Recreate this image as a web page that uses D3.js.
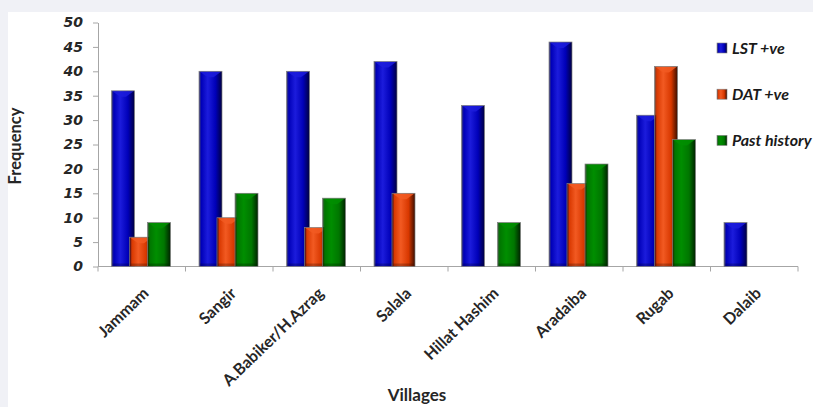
<!DOCTYPE html>
<html>
<head>
<meta charset="utf-8">
<script src="https://cdn.jsdelivr.net/npm/d3@7"></script>
<style>
  html, body { margin: 0; padding: 0; background: #f0f1f6; }
  svg { display: block; }
</style>
</head>
<body>
<svg id="chart" width="813" height="407"></svg>
<script>
// Villages surveyed and counts per indicator
const villages = ["Jammam", "Sangir", "A.Babiker/H.Azrag", "Salala", "Hillat Hashim", "Aradaiba", "Rugab", "Dalaib"];
const seriesNames = ["LST +ve", "DAT +ve", "Past history"];
const lstPositive = [36, 40, 40, 42, 33, 46, 31, 9];
const datPositive = [6, 10, 8, 15, 0, 17, 41, 0];
const pastHistory = [9, 15, 14, 0, 9, 21, 26, 0];
const yTicks = [0, 5, 10, 15, 20, 25, 30, 35, 40, 45, 50];

const seriesValues = [lstPositive, datPositive, pastHistory];
const seriesColors = [
  { base: "#0000b8", light: "#1c1cdc", dark: "#000040" },
  { base: "#d83800", light: "#f25a22", dark: "#3c0e00" },
  { base: "#007600", light: "#008e00", dark: "#002200" }
];

const svg = d3.select("#chart");
const W = 813, H = 407;

// white chart panel
svg.append("rect").attr("x", 8).attr("y", 12).attr("width", W - 8).attr("height", H - 12).attr("fill", "#ffffff");

const margin = { left: 98, top: 22.5 };
const plotW = 700, plotH = 244;

const g = svg.append("g").attr("transform", `translate(${margin.left},${margin.top})`);

const x0 = d3.scaleBand().domain(villages).range([0, plotW]).paddingInner(0).paddingOuter(0);
const x1 = d3.scaleBand().domain(seriesNames).range([13.5, 13.5 + 54]);
const barW = 23;
const y = d3.scaleLinear().domain([0, 50]).range([plotH, 0]);

// gradients for bevelled bars
const defs = svg.append("defs");
seriesColors.forEach((c, i) => {
  const gr = defs.append("linearGradient").attr("id", "grad" + i).attr("x1", "0").attr("x2", "1").attr("y1", "0").attr("y2", "0");
  gr.append("stop").attr("offset", "0%").attr("stop-color", c.dark).attr("stop-opacity", 0.7);
  gr.append("stop").attr("offset", "10%").attr("stop-color", c.base);
  gr.append("stop").attr("offset", "38%").attr("stop-color", c.light);
  gr.append("stop").attr("offset", "72%").attr("stop-color", c.base);
  gr.append("stop").attr("offset", "100%").attr("stop-color", c.dark);
});

// y axis
const yAxis = d3.axisLeft(y).tickValues(yTicks).tickSize(5).tickSizeOuter(0).tickPadding(10);
const yg = g.append("g").call(yAxis);
yg.select(".domain").attr("stroke", "#a6a6a6");
yg.selectAll(".tick line").attr("stroke", "#a6a6a6");
yg.selectAll(".tick text")
  .attr("font-family", "DejaVu Sans")
  .attr("font-weight", "bold")
  .attr("font-style", "italic")
  .attr("font-size", "14px")
  .attr("fill", "#262626");

// x axis with ticks at category boundaries
const xg = g.append("g").attr("transform", `translate(0,${plotH})`);
xg.append("line").attr("x1", 0).attr("x2", plotW).attr("y1", 0).attr("y2", 0).attr("stroke", "#a6a6a6");
const boundaries = villages.map(v => x0(v)).concat([plotW]);
xg.selectAll("line.bt").data(boundaries).join("line").attr("class", "bt")
  .attr("x1", d => d).attr("x2", d => d).attr("y1", 0).attr("y2", 5).attr("stroke", "#a6a6a6");

// bars, series by series so later series sit in front
seriesNames.forEach((s, si) => {
  const layer = g.append("g");
  villages.forEach((v, vi) => {
    const val = seriesValues[si][vi];
    if (!val) return;
    const bx = x0(v) + x1(s);
    const by = y(val);
    const bh = y(0) - by;
    const c = seriesColors[si];
    layer.append("rect").attr("x", bx).attr("y", by).attr("width", barW).attr("height", bh)
      .attr("fill", `url(#grad${si})`);
    // top bevel highlight
    const bev = Math.min(6, bh / 2);
    layer.append("path")
      .attr("d", `M${bx + 1},${by + 0.5} L${bx + barW - 1},${by + 0.5} L${bx + barW / 2 + 3},${by + bev} L${bx + barW / 2 - 3},${by + bev} Z`)
      .attr("fill", c.light).attr("opacity", 0.85);
    // bottom bevel shade
    layer.append("rect").attr("x", bx + 1).attr("y", by + bh - 3).attr("width", barW - 2).attr("height", 2.5)
      .attr("fill", c.dark).attr("opacity", 0.3);
    // thin grey outline
    layer.append("rect").attr("x", bx).attr("y", by).attr("width", barW).attr("height", bh)
      .attr("fill", "none").attr("stroke", "#7f7f7f").attr("stroke-width", 0.7);
  });
});

// category labels
g.selectAll("text.cat").data(villages).join("text").attr("class", "cat")
  .attr("transform", v => `translate(${x0(v) + x0.bandwidth() / 2 + 8},${plotH + 28}) rotate(-44)`)
  .attr("text-anchor", "end")
  .attr("font-family", "Lato")
  .attr("font-weight", "bold")
  .attr("font-size", "16px")
  .attr("fill", "#262626")
  .text(v => v);

// axis titles
svg.append("text")
  .attr("transform", "translate(21,146) rotate(-90)")
  .attr("text-anchor", "middle")
  .attr("font-family", "Lato").attr("font-weight", "bold").attr("font-size", "16.5px").attr("fill", "#262626")
  .text("Frequency");
svg.append("text")
  .attr("x", 417).attr("y", 401)
  .attr("text-anchor", "middle")
  .attr("font-family", "Lato").attr("font-weight", "bold").attr("font-size", "17px").attr("fill", "#262626")
  .text("Villages");

// legend
const legend = svg.append("g").attr("transform", "translate(717,48)");
seriesNames.forEach((s, i) => {
  const lg = legend.append("g").attr("transform", `translate(0,${i * 46.2})`);
  lg.append("rect").attr("x", 0).attr("y", -5).attr("width", 10).attr("height", 10)
    .attr("fill", `url(#grad${i})`).attr("stroke", "#7f7f7f").attr("stroke-width", 0.6);
  lg.append("text").attr("x", 15).attr("y", 5.5)
    .attr("font-family", "Lato").attr("font-weight", "bold").attr("font-style", "italic")
    .attr("font-size", "16px").attr("fill", "#1a1a1a")
    .text(s);
});
</script>
</body>
</html>
